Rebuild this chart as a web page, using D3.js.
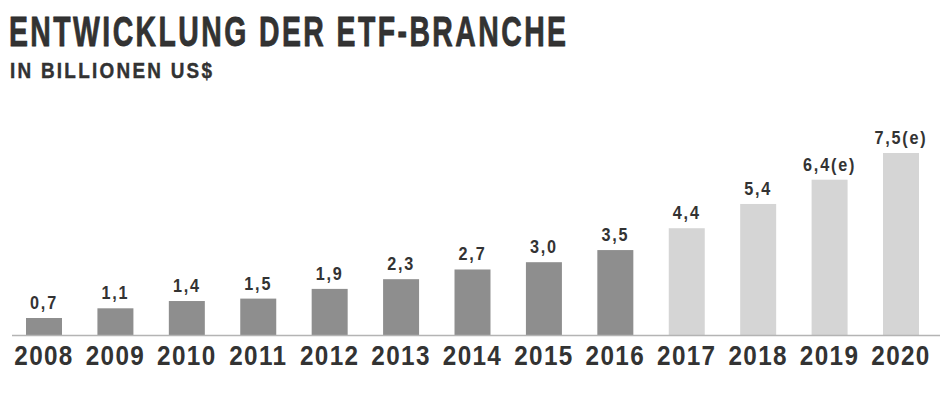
<!DOCTYPE html>
<html>
<head>
<meta charset="utf-8">
<script src="https://cdn.jsdelivr.net/npm/d3@7"></script>
<style>
  html, body { margin: 0; padding: 0; background: #fff; }
  svg { display: block; }
  text { font-family: "Liberation Sans", Arial, sans-serif; font-weight: bold; fill: #333; }
</style>
</head>
<body>
<svg id="chart" width="940" height="412"></svg>
<script>
const years = ["2008","2009","2010","2011","2012","2013","2014","2015","2016","2017","2018","2019","2020"];
const values = [0.7, 1.1, 1.4, 1.5, 1.9, 2.3, 2.7, 3.0, 3.5, 4.4, 5.4, 6.4, 7.5];
const valueLabels = ["0,7","1,1","1,4","1,5","1,9","2,3","2,7","3,0","3,5","4,4","5,4","6,4(e)","7,5(e)"];
const estimated = [false,false,false,false,false,false,false,false,false,true,true,true,true];
const title = "ENTWICKLUNG DER ETF-BRANCHE";
const subtitle = "IN BILLIONEN US$";

const svg = d3.select("#chart");

const x = d3.scaleBand().domain(years).range([26, 919]).paddingInner(0.496).paddingOuter(0);
const y = d3.scaleLinear().domain([0, 7.5]).range([335, 153]);

// condensed, letter-spaced title
const tSx = 0.66;
svg.append("text")
  .attr("transform", `translate(9,46) scale(${tSx},1)`)
  .attr("font-size", 43)
  .attr("textLength", 557 / tSx).attr("lengthAdjust", "spacing")
  .attr("stroke", "#2b2b2b").attr("stroke-width", 0.8)
  .attr("fill", "#2b2b2b").text(title);

const sSx = 0.86;
svg.append("text")
  .attr("transform", `translate(10,78) scale(${sSx},1)`)
  .attr("font-size", 22)
  .attr("textLength", 202 / sSx).attr("lengthAdjust", "spacing")
  .attr("stroke", "#2b2b2b").attr("stroke-width", 0.4)
  .attr("fill", "#2b2b2b").text(subtitle);

const data = years.map((yr, i) => ({yr, v: values[i], lab: valueLabels[i], est: estimated[i]}));

svg.append("g").selectAll("rect").data(data).join("rect")
  .attr("x", d => x(d.yr))
  .attr("y", d => y(d.v))
  .attr("width", x.bandwidth())
  .attr("height", d => y(0) - y(d.v))
  .attr("fill", d => d.est ? "#d5d5d5" : "#8e8e8e");

svg.append("line").attr("x1", 12).attr("x2", 940).attr("y1", y(0) + 0.5).attr("y2", y(0) + 0.5)
  .attr("stroke", "#b4b4b4").attr("stroke-width", 1.5);

svg.append("g").selectAll("text").data(data).join("text")
  .attr("transform", d => `translate(${x(d.yr) + x.bandwidth() / 2},${y(d.v) - 9}) scale(0.9,1)`)
  .attr("text-anchor", "middle")
  .attr("font-size", 18)
  .style("letter-spacing", "2px")
  .attr("fill", "#333")
  .text(d => d.lab);

svg.append("g").selectAll("text").data(data).join("text")
  .attr("transform", d => `translate(${x(d.yr) + x.bandwidth() / 2},365) scale(0.9,1)`)
  .attr("text-anchor", "middle")
  .attr("font-size", 27)
  .style("letter-spacing", "1.5px")
  .attr("fill", "#333")
  .text(d => d.yr);
</script>
</body>
</html>
